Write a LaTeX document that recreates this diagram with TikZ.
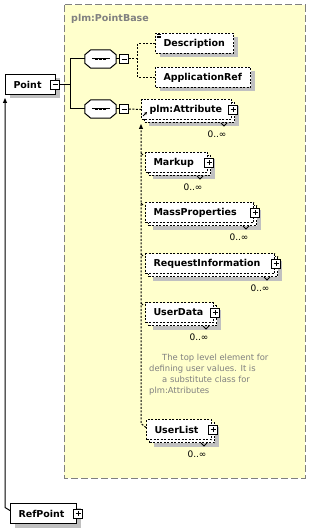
\documentclass[tikz,border=0pt]{standalone}
\usepackage{fontspec}
\setmainfont{DejaVu Sans}
\usetikzlibrary{arrows.meta,positioning,calc,shadows}
\definecolor{GroupFill}{RGB}{255,255,204}
\definecolor{GroupLine}{RGB}{128,128,128}
\definecolor{ShadowGray}{RGB}{192,192,192}
\definecolor{NoteGray}{RGB}{128,128,128}

\tikzset{
  elembase/.style={draw, fill=white, line width=1pt, anchor=north west,
    inner xsep=8pt, inner ysep=0pt, minimum height=20pt, text width=#1,
    align=left, font=\bfseries\fontsize{9.5}{11}\selectfont},
  elem/.style={elembase=#1,
    drop shadow={shadow xshift=4pt, shadow yshift=-4pt, fill=ShadowGray, opacity=1}},
  optelem/.style={elem=#1, dash pattern=on 2pt off 1.5pt},
  multielem/.style={elembase=#1, dash pattern=on 2pt off 1.5pt,
    drop shadow={shadow xshift=7pt, shadow yshift=-7pt, fill=ShadowGray, opacity=1},
    copy shadow={shadow xshift=3pt, shadow yshift=-3pt, draw=black, fill=white,
      line width=1pt, dash pattern=on 2pt off 1.5pt}},
  iconbase/.style={draw, fill=white, line width=0.8pt, minimum size=9pt, inner sep=0pt},
  minusicon/.style={iconbase,
    path picture={\draw[line width=0.8pt]
      ([xshift=2pt]path picture bounding box.west) -- ([xshift=-2pt]path picture bounding box.east);}},
  plusicon/.style={iconbase,
    path picture={\draw[line width=0.8pt]
      ([xshift=2pt]path picture bounding box.west) -- ([xshift=-2pt]path picture bounding box.east)
      ([yshift=2pt]path picture bounding box.south) -- ([yshift=-2pt]path picture bounding box.north);}},
  seqbox/.style={rectangle, minimum width=31pt, minimum height=18pt, inner sep=0pt},
  octagon/.style={draw, fill=white, line width=1pt},
  conn/.style={line width=1pt},
  optconn/.style={line width=1pt, dash pattern=on 2pt off 1.5pt},
  occ/.style={font=\fontsize{9}{10}\selectfont, inner sep=0pt},
  grouplbl/.style={font=\bfseries\fontsize{9.5}{11}\selectfont, text=GroupLine, inner sep=0pt},
  note/.style={font=\fontsize{8.4}{11}\selectfont, text=NoteGray, align=left, inner sep=0pt}
}

\begin{document}
\begin{tikzpicture}[x=1pt, y=-1pt]
  \useasboundingbox[fill=white] (0,0) rectangle (311,529);
  % substitution group box
  \draw[fill=GroupFill, draw=GroupLine, line width=1pt, dash pattern=on 7pt off 3pt] (64,5) rectangle (305,478);
  \node[grouplbl, anchor=west] (baselbl) at (71,19) {plm:PointBase};

  % elements
  \node[elem=34pt] (pt) at (5,74) {Point};
  \node[seqbox] (seqa) at (100.5,59) {};
  \node[seqbox] (seqb) at (100.5,109) {};
  \node[optelem=62pt] (desc) at (155,33) {Description};
  \node[optelem=79pt] (appref) at (155,67) {ApplicationRef};
  \node[multielem=74pt] (att) at (141,99) {plm:Attribute};
  \node[multielem=46pt] (mk) at (145,152) {Markup};
  \node[multielem=92pt] (mp) at (145,202) {MassProperties};
  \node[multielem=113pt] (ri) at (145,253) {RequestInformation};
  \node[multielem=52pt] (ud) at (145,302) {UserData};
  \node[multielem=49pt] (ul) at (146,419) {UserList};
  \node[elem=50pt] (rp) at (10,503) {RefPoint};
  \node[note, anchor=north west] (udnote) at (149,354) {\hspace*{13pt}The top level element for\\defining user values. It is\\\hspace*{13pt}a substitute class for\\plm:Attributes};

  % sequence compositors
  \foreach \s in {seqa,seqb} {
    \fill[ShadowGray, shift={(4,4)}] ([xshift=6pt]\s.north west) -- ([xshift=-6pt]\s.north east)
      -- ([yshift=-5pt]\s.north east) -- ([yshift=5pt]\s.south east) -- ([xshift=-6pt]\s.south east)
      -- ([xshift=6pt]\s.south west) -- ([yshift=5pt]\s.south west) -- ([yshift=-5pt]\s.north west) -- cycle;
    \draw[octagon] ([xshift=6pt]\s.north west) -- ([xshift=-6pt]\s.north east)
      -- ([yshift=-5pt]\s.north east) -- ([yshift=5pt]\s.south east) -- ([xshift=-6pt]\s.south east)
      -- ([xshift=6pt]\s.south west) -- ([yshift=5pt]\s.south west) -- ([yshift=-5pt]\s.north west) -- cycle;
    \draw[conn] ([xshift=7pt]\s.west) -- ([xshift=-6pt]\s.east);
    \foreach \d in {-4,0,4}
      \fill ([xshift=\d pt]\s.center) ++(-1.3,-1.3) rectangle ++(2.6,2.6);
  }

  % icons
  \node[minusicon] (ptm) at ([xshift=-1pt]pt.east) {};
  \node[minusicon] (seqam) at (124,59) {};
  \node[minusicon] (seqbm) at (124,109) {};
  \foreach \n in {att,mk,mp,ri,ud,ul,rp}
    \node[plusicon] (\n-plus) at ([xshift=1pt]\n.east) {};
  \foreach \k in {1.5,3,4.5}
    \draw[line width=0.6pt] ([shift={(1.5,\k)}]desc.north west) -- ++(4,0);
  \draw[line width=0.8pt, -{Stealth[length=3pt,width=3pt]}] ([shift={(2,-4)}]att.south west) -- ++(4,-4);

  % occurrences
  \foreach \n in {att,mk,mp,ri,ud,ul} {
    \draw[line width=0.8pt] ([shift={(-11,3)}]\n.south east) -- ++(3,3) -- ++(3,-3);
    \node[occ] (\n-occ) at ([shift={(-15,14)}]\n.south east) {0..∞};
  }

  % connectors
  \draw[conn] (ptm.east) -- ++(11,0) coordinate (fork);
  \draw[conn] (seqa.west) -| (fork) |- (seqb.west);
  \draw[conn] (seqa.east) -- (seqam.west);
  \draw[conn] (seqb.east) -- (seqbm.west);
  \draw[optconn] (seqam.east) -- ++(9,0) coordinate (forka);
  \draw[optconn] (desc.west) -| (forka) |- (appref.west);
  \draw[optconn] (seqbm.east) -- (att.west);
  \draw[optconn, -{Triangle[length=5pt,width=4pt]}] ([yshift=2pt]ul.west) -- ++(-5,-4) -- ([yshift=-4pt]att.south west);
  \foreach \n in {mk,mp,ri,ud}
    \draw[line width=0.8pt] ([shift={(-4,1)}]\n.north west) -- ++(2,2);
  \draw[conn, -{Triangle[length=5pt,width=4pt]}] ([yshift=3pt]rp.west) -- ++(-5,-3) -- ([yshift=-3pt]pt.south west);
\end{tikzpicture}
\end{document}
